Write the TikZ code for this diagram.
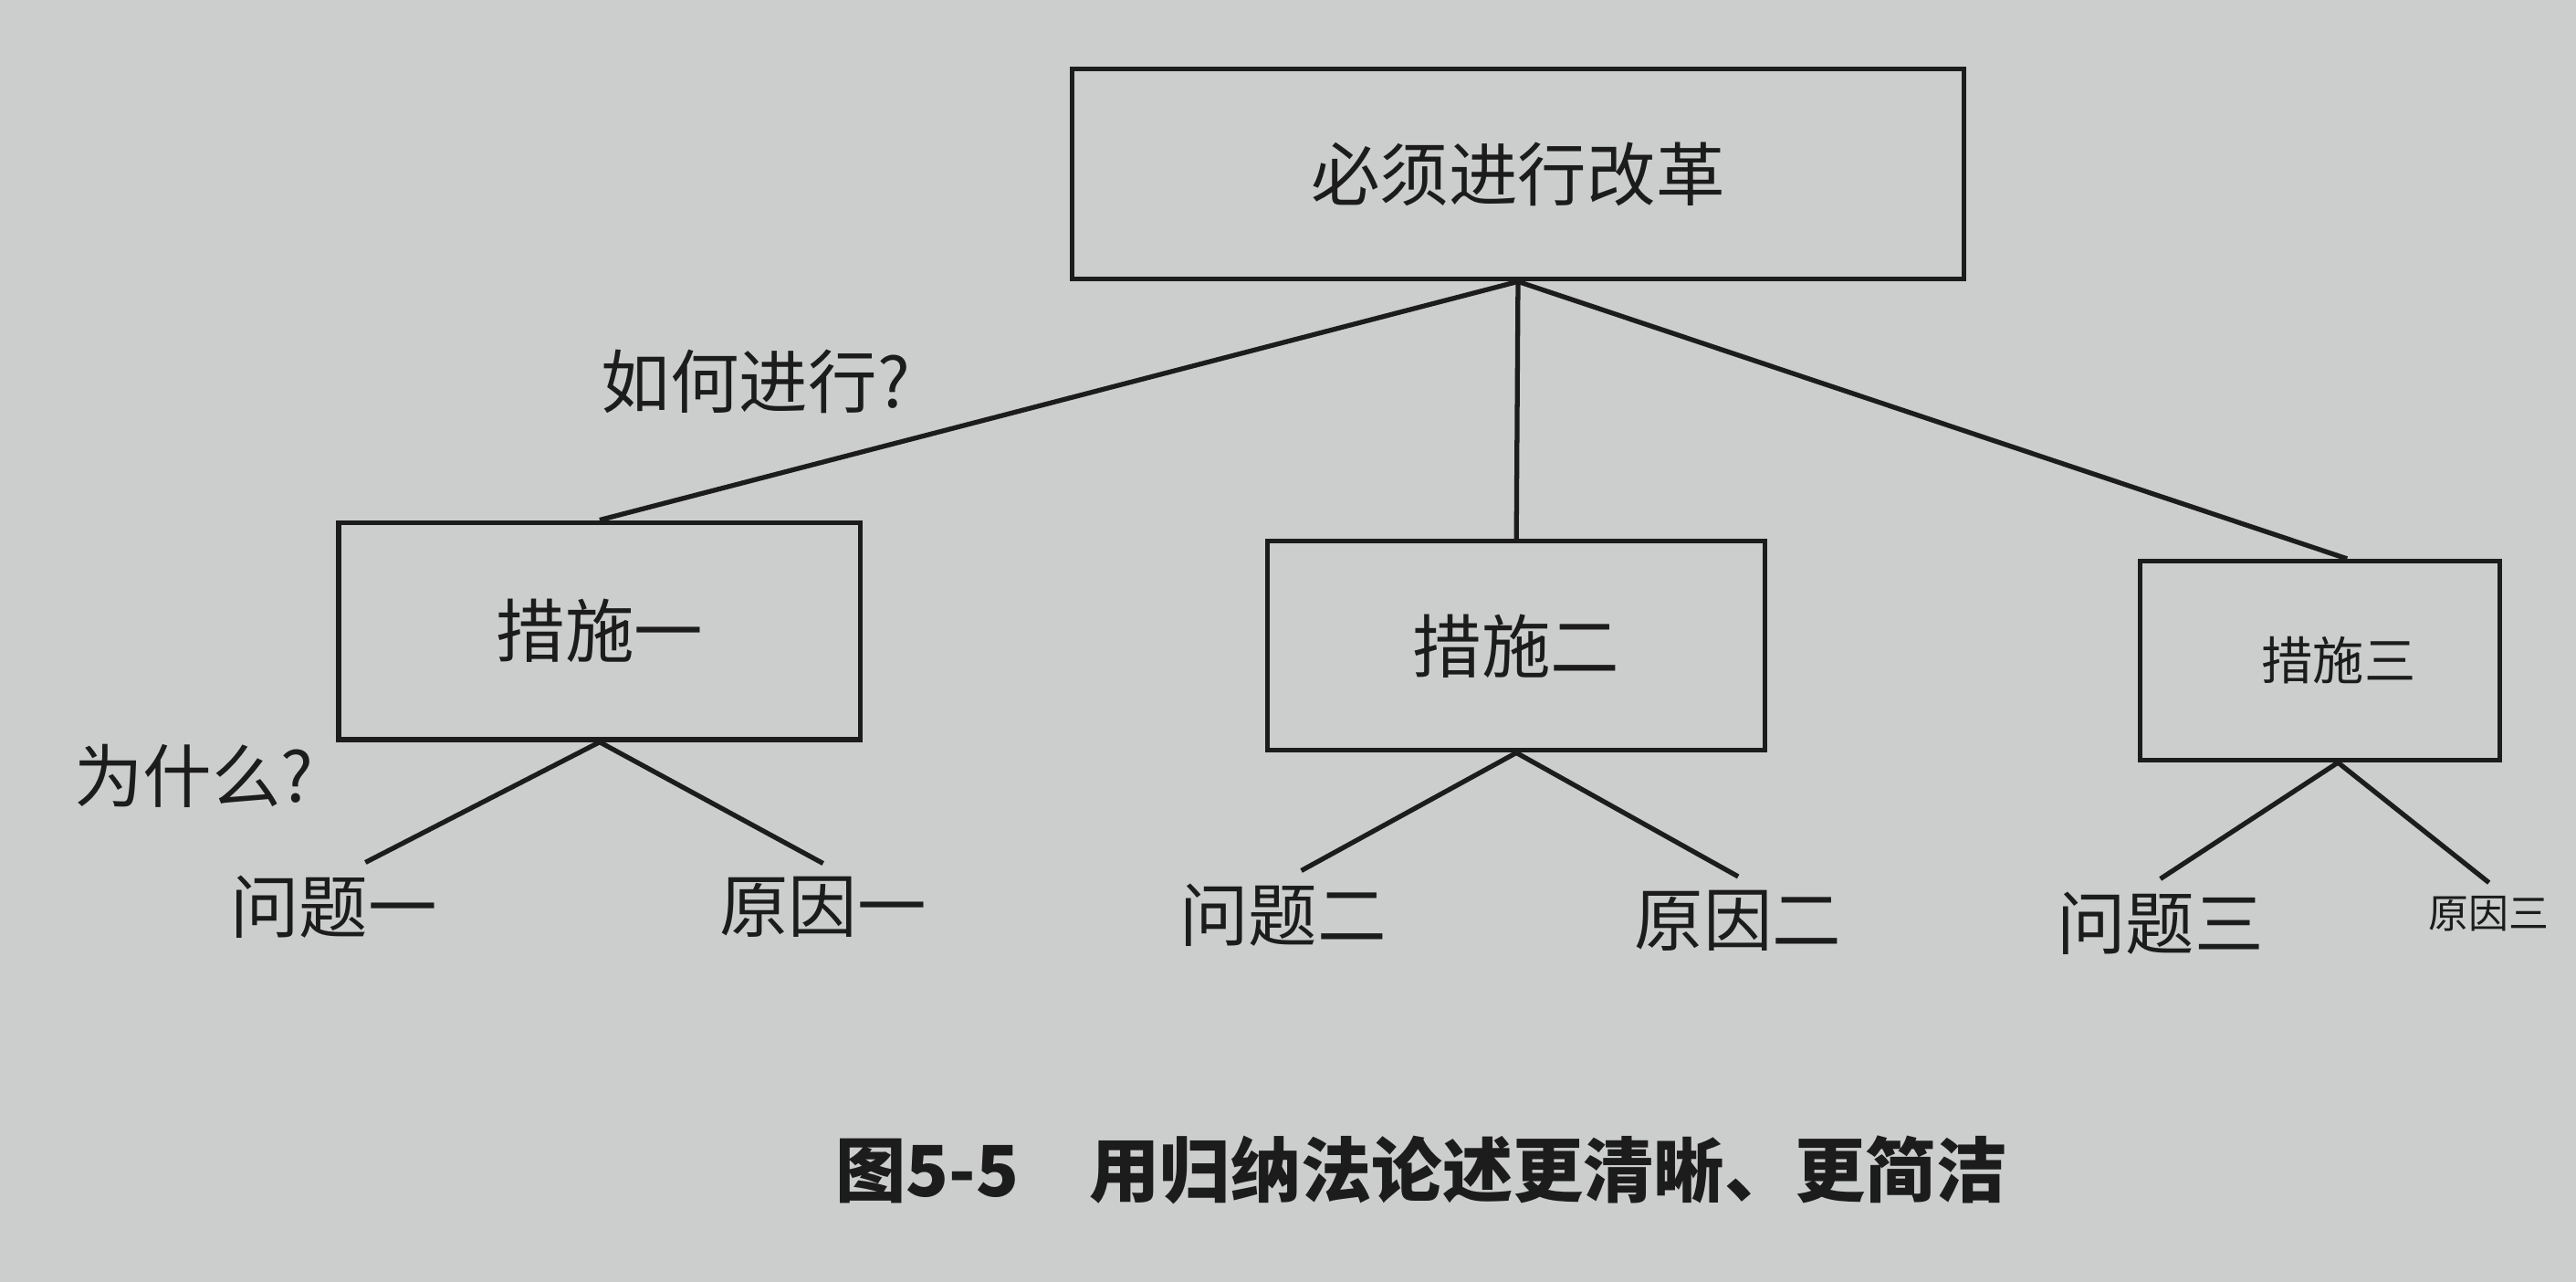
\documentclass[tikz,border=0pt]{standalone}
\usepackage{fontspec}
\newfontfamily\hei{Noto Sans CJK SC}
\usetikzlibrary{positioning}
\definecolor{paper}{RGB}{203,206,204}
\definecolor{ink}{RGB}{28,28,28}

\begin{document}
\begin{tikzpicture}[x = 0.018cm, y = -0.018cm,
  box/.style = {draw = ink, line width = 1.5pt, shape = rectangle, text = ink, font = \hei\fontsize{21.5pt}{24pt}\selectfont},
  leaf/.style = {text = ink, inner sep = 4pt, font = \hei\fontsize{21.5pt}{24pt}\selectfont},
  link/.style = {draw = ink, line width = 1.5pt}]
\fill[paper] (0,0) rectangle (1568,780);
\useasboundingbox (0,0) rectangle (1568,780);

% boxes
\node[box, minimum width = 9.77cm, minimum height = 2.3cm] (root) at (924,106) {必须进行改革};
\node[box, minimum width = 5.72cm, minimum height = 2.38cm] (m1) at (365,384) {措施一};
\node[box, minimum width = 5.45cm, minimum height = 2.29cm] (m2) at (923,393) {措施二};
\node[box, minimum width = 3.94cm, minimum height = 2.18cm, text width = 2.1cm, align = right, font = \hei\fontsize{16pt}{18pt}\selectfont] (m3) at (1412,402) {措施三};

% leaves
\node[leaf] (q1) at (203,552) {问题一};
\node[leaf] (r1) at (501,552) {原因一};
\node[leaf] (q2) at (781,557) {问题二};
\node[leaf] (r2) at (1058,560) {原因二};
\node[leaf] (q3) at (1315,562) {问题三};
\node[leaf, font = \hei\fontsize{12.5pt}{14pt}\selectfont] (r3) at (1515,556) {原因三};

% questions
\node[leaf] (how) at (460,232) {如何进行?};
\node[leaf] (why) at (118,472) {为什么?};

\draw[link] (root.south) -- (m1.north);
\draw[link] (root.south) -- (m2.north);
\draw[link] (root.south) -- ([xshift = 0.3cm]m3.north);
\draw[link] (m1.south) -- ([xshift = 0.35cm]q1.north);
\draw[link] (m1.south) -- (r1.north);
\draw[link] (m2.south) -- ([xshift = 0.2cm]q2.north);
\draw[link] (m2.south) -- (r2.north);
\draw[link] ([xshift = 0.2cm]m3.south) -- (q3.north);
\draw[link] ([xshift = 0.2cm]m3.south) -- (r3.north);

\node[text = ink, font = \hei\bfseries\fontsize{22pt}{26pt}\selectfont] (caption) at (865,712) {图5-5\quad 用归纳法论述更清晰、更简洁};
\end{tikzpicture}
\end{document}
